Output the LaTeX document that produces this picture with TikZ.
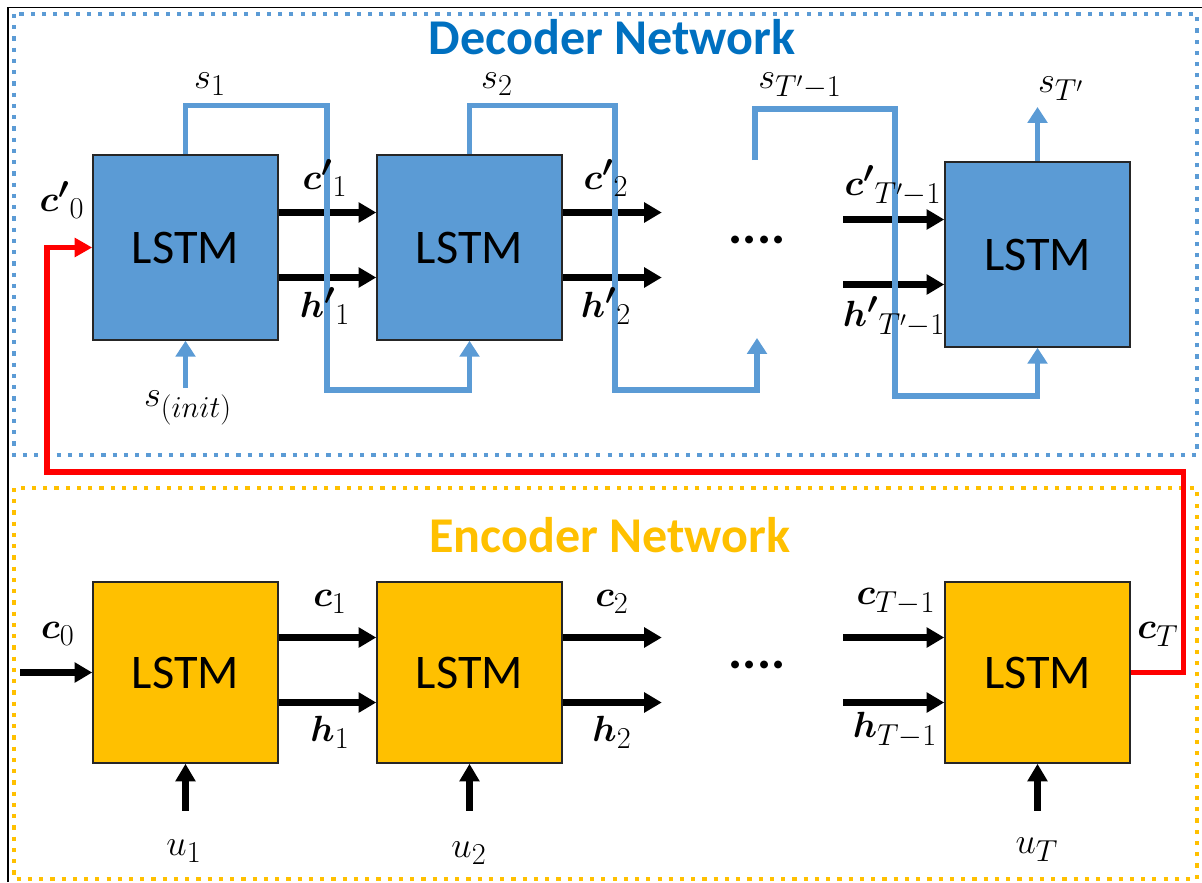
\documentclass[tikz,border=0pt]{standalone}
\usepackage[no-math]{fontspec}
\setmainfont{Carlito}
\usepackage{amsmath}
\usepackage{amssymb}
\usetikzlibrary{arrows.meta,calc}
\DeclareMathSizes{22}{22}{16.5}{12}

\definecolor{decblue}{RGB}{91,155,213}
\definecolor{dectitle}{RGB}{0,112,192}
\definecolor{encyellow}{RGB}{255,192,0}

\tikzset{
  lstm/.style={draw=black!85, line width=0.9pt, minimum width=3.7cm, minimum height=3.7cm, inner sep=0pt, font=\fontsize{27.5}{30}\selectfont},
  flow/.style={line width=3.5pt, -{Triangle[length=10pt,width=11pt]}},
  sflow/.style={draw=decblue, line width=3pt, -{Triangle[length=9pt,width=11pt]}},
  cflow/.style={draw=red, line width=3pt, -{Triangle[length=10pt,width=10.5pt]}},
  lbl/.style={font=\fontsize{22}{24}\selectfont, inner sep=0pt},
  netbox/.style={line width=2.4pt, dash pattern=on 2.4pt off 4pt},
  nettitle/.style={font=\fontsize{28.5}{30}\selectfont\bfseries, inner sep=0pt},
}

\begin{document}
\begin{tikzpicture}[x=0.02cm,y=-0.02cm]
  \useasboundingbox (0,0) rectangle (1202,882);
  \draw[line width=1pt] (8,882) -- (8,7.5) -- (1202,7.5);

  % the two networks
  \draw[netbox, decblue] (14,14) rectangle (1197,455);
  \draw[netbox, encyellow] (14,488) rectangle (1197,879);
  \node[nettitle, text=dectitle] (dectitle) at (612,37) {Decoder Network};
  \node[nettitle, text=encyellow] (enctitle) at (610,535) {Encoder Network};

  % decoder
  \node[lstm, fill=decblue] (dec1) at (185.5,247.5) {LSTM};
  \node[lstm, fill=decblue] (dec2) at (469.5,247.5) {LSTM};
  \node[lstm, fill=decblue] (dec3) at (1037.5,254.5) {LSTM};
  \node[font=\fontsize{30}{30}\selectfont\bfseries] (decdots) at (757,240) {....};

  \coordinate (sinit) at (185.5,388);
  \coordinate (dotin) at (757,338);
  \coordinate (dotout) at (755,160);
  \coordinate (sout) at (1037.5,107);

  \foreach \y in {-35,30} {
      \draw[flow] ($(dec1.east)+(0,\y)$) -- ($(dec2.west)+(0,\y)$);
      \draw[flow] ($(dec2.east)+(0,\y)$) -- ++(99,0);
      \draw[flow] ($(dec3.west)+(-101,\y)$) -- ($(dec3.west)+(0,\y)$);
  }

  \draw[sflow] (sinit) -- (dec1.south);
  \draw[sflow] (dec1.north) -- ++(0,-49) -| (327,390) -| (dec2.south);
  \draw[sflow] (dec2.north) -- ++(0,-49) -| (615,390) -| (dotin);
  \draw[sflow] (dotout) -- ++(0,-51) -| (895,396) -| (dec3.south);
  \draw[sflow] (dec3.north) -- (sout);

  \node[lbl] (s1) at (210,84) {$s_1$};
  \node[lbl] (s2) at (497,84) {$s_2$};
  \node[lbl] (stm) at (800,86) {$s_{T'-1}$};
  \node[lbl] (st) at (1061,89) {$s_{T'}$};
  \node[lbl] (s0) at (188,408) {$s_{(init)}$};
  \node[lbl] (cd0) at (62,200) {$\boldsymbol{c'}_0$};
  \node[lbl] (cd1) at (325,178) {$\boldsymbol{c'}_1$};
  \node[lbl] (hd1) at (325,306) {$\boldsymbol{h'}_1$};
  \node[lbl] (cd2) at (606,178) {$\boldsymbol{c'}_2$};
  \node[lbl] (hd2) at (606,306) {$\boldsymbol{h'}_2$};
  \node[lbl] (cdt) at (893,186) {$\boldsymbol{c'}_{T'-1}$};
  \node[lbl] (hdt) at (894,317) {$\boldsymbol{h'}_{T'-1}$};

  % encoder
  \node[lstm, fill=encyellow, minimum height=3.62cm] (enc1) at (185.5,672.5) {LSTM};
  \node[lstm, fill=encyellow, minimum height=3.62cm] (enc2) at (469.5,672.5) {LSTM};
  \node[lstm, fill=encyellow, minimum height=3.62cm] (enc3) at (1037.5,672.5) {LSTM};
  \node[font=\fontsize{30}{30}\selectfont\bfseries] (encdots) at (757,665) {....};

  \coordinate (c0in) at (20,672.5);
  \draw[flow] (c0in) -- (enc1.west);
  \foreach \y in {-35,30} {
      \draw[flow] ($(enc1.east)+(0,\y)$) -- ($(enc2.west)+(0,\y)$);
      \draw[flow] ($(enc2.east)+(0,\y)$) -- ++(99,0);
      \draw[flow] ($(enc3.west)+(-101,\y)$) -- ($(enc3.west)+(0,\y)$);
  }
  \foreach \n in {enc1,enc2,enc3}
      \draw[flow] ($(\n.south)+(0,47)$) -- (\n.south);

  \node[lbl] (c0) at (58,634) {$\boldsymbol{c}_0$};
  \node[lbl] (c1) at (330,602) {$\boldsymbol{c}_1$};
  \node[lbl] (h1) at (330,732) {$\boldsymbol{h}_1$};
  \node[lbl] (c2) at (612,602) {$\boldsymbol{c}_2$};
  \node[lbl] (h2) at (612,732) {$\boldsymbol{h}_2$};
  \node[lbl] (ctm) at (896,602) {$\boldsymbol{c}_{T-1}$};
  \node[lbl] (htm) at (895,730) {$\boldsymbol{h}_{T-1}$};
  \node[lbl] (ct) at (1158,634) {$\boldsymbol{c}_T$};
  \node[lbl] (u1) at (184,851) {$u_1$};
  \node[lbl] (u2) at (469,853) {$u_2$};
  \node[lbl] (ut) at (1037,850) {$u_T$};

  % encoder state handed to the decoder
  \draw[cflow] (enc3.east) -- ++(53,0) |- (47,472) |- (dec1.west);
\end{tikzpicture}
\end{document}
